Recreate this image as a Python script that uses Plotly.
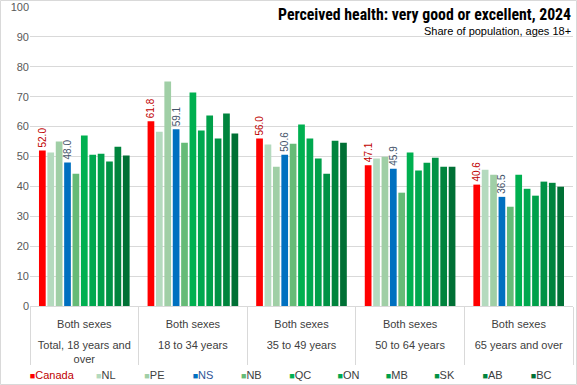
import plotly.graph_objects as go

age_groups = ["<br>Total, 18 years and<br>over", "<br>18 to 34 years", "<br>35 to 49 years",
              "<br>50 to 64 years", "<br>65 years and over"]
sex_labels = ["Both sexes"] * 5

regions = ["Canada", "NL", "PE", "NS", "NB", "QC", "ON", "MB", "SK", "AB", "BC"]

canada = [52.0, 61.8, 56.0, 47.1, 40.6]
nl = [51.3, 58.3, 54.0, 49.3, 45.6]
pe = [55.0, 75.1, 46.6, 49.9, 43.9]
ns = [48.0, 59.1, 50.6, 45.9, 36.5]
nb = [44.2, 54.6, 54.3, 37.9, 33.2]
qc = [57.0, 71.4, 60.7, 51.3, 43.9]
on = [50.6, 58.7, 56.0, 45.3, 39.2]
mb = [50.9, 63.7, 49.3, 47.9, 36.9]
sk = [48.3, 56.0, 44.2, 49.6, 41.6]
ab = [53.3, 64.4, 55.3, 46.6, 41.2]
bc = [50.3, 57.7, 54.6, 46.6, 39.9]

values = [canada, nl, pe, ns, nb, qc, on, mb, sk, ab, bc]
colors = ["#FF0000", "#B4DABE", "#A0CFA6", "#0070C0", "#66BB77", "#00B050",
          "#00A84F", "#00A04A", "#009245", "#00843D", "#007035"]
label_colors = {"Canada": "#C00000", "NS": "#44546A"}
legend_text_colors = {"Canada": "#C00000", "NS": "#2F5597"}

fig = go.Figure()
for name, vals, col in zip(regions, values, colors):
    kw = {}
    if name in label_colors:
        kw = dict(text=[f"{v:.1f}\u00a0\u00a0" for v in vals], textposition="outside",
                  textangle=-90, cliponaxis=False, constraintext="none",
                  textfont=dict(color=label_colors[name], size=10,
                                family="Liberation Sans, Arial, sans-serif"))
    fig.add_trace(go.Bar(name=name, x=[age_groups, sex_labels], y=vals,
                         marker=dict(color=col, line=dict(width=0)),
                         showlegend=False, **kw))

# legend entries: small square glyph + label
for i, (name, col) in enumerate(zip(regions, colors)):
    tcol = legend_text_colors.get(name, "#404040")
    label = (f"<span style='color:{col};font-size:9px'>■</span>"
             f"<span style='color:{tcol}'>{name}</span>")
    if name == "Canada":
        lw = 45
    elif i == len(regions) - 1:
        lw = 30
    else:
        lw = 3.3
    fig.add_trace(go.Scatter(x=[[age_groups[0]], [sex_labels[0]]], y=[None],
                             mode="markers", marker=dict(color="rgba(0,0,0,0)", size=1),
                             name=label, showlegend=True, hoverinfo="skip", legendwidth=lw,
                             legend="legend" if name == "Canada" else "legend2"))

leg_common = dict(orientation="h", yanchor="top", itemwidth=30,
                  font=dict(size=11, color="#404040"),
                  bgcolor="rgba(0,0,0,0)", tracegroupgap=0)

fig.update_layout(
    width=577, height=385,
    margin=dict(l=30, r=4, t=7, b=79, autoexpand=False),
    paper_bgcolor="white", plot_bgcolor="white",
    barmode="group", bargap=0.15, bargroupgap=0.2,
    font=dict(family="Liberation Sans, Arial, sans-serif", size=11, color="#404040"),
    showlegend=True,
    legend=dict(x=-0.074, y=-0.18, xanchor="left", **leg_common),
    legend2=dict(x=0.048, y=-0.18, xanchor="left", **leg_common),
    yaxis=dict(range=[0, 100], dtick=10, showgrid=True, gridcolor="#D9D9D9",
               gridwidth=1, zeroline=False, showline=False,
               tickfont=dict(size=11, color="#595959"), ticks="", ticklen=0),
    xaxis=dict(type="multicategory", showline=True, linecolor="#D9D9D9",
               showdividers=True, dividercolor="#D9D9D9", dividerwidth=1,
               tickfont=dict(size=11, color="#404040"), ticks="",
               ticklabelstandoff=8),
    annotations=[
        dict(text="<b>Perceived health: very good or excellent, 2024</b>",
             xref="paper", yref="paper", x=1.0, y=1.012, xanchor="right", yanchor="top",
             showarrow=False, font=dict(size=15.8, color="#000000",
                                        family="Liberation Sans Narrow, Roboto Condensed, Arial Narrow, sans-serif")),
        dict(text="Share of population, ages 18+",
             xref="paper", yref="paper", x=1.0, y=0.945, xanchor="right", yanchor="top",
             showarrow=False, font=dict(size=11, color="#000000")),
    ],
    shapes=[dict(type="rect", xref="paper", yref="paper",
                 x0=-29.5/543, x1=1+3.5/543, y0=-78.5/299, y1=1+6.5/299,
                 line=dict(color="#D9D9D9", width=1), fillcolor="rgba(0,0,0,0)", layer="below")],
)

fig.write_html("out.html", config={"displayModeBar": False},
               post_script="document.body.style.margin='0px';"
                           "document.body.style.overflow='hidden';"
                           "document.documentElement.style.overflow='hidden';")
